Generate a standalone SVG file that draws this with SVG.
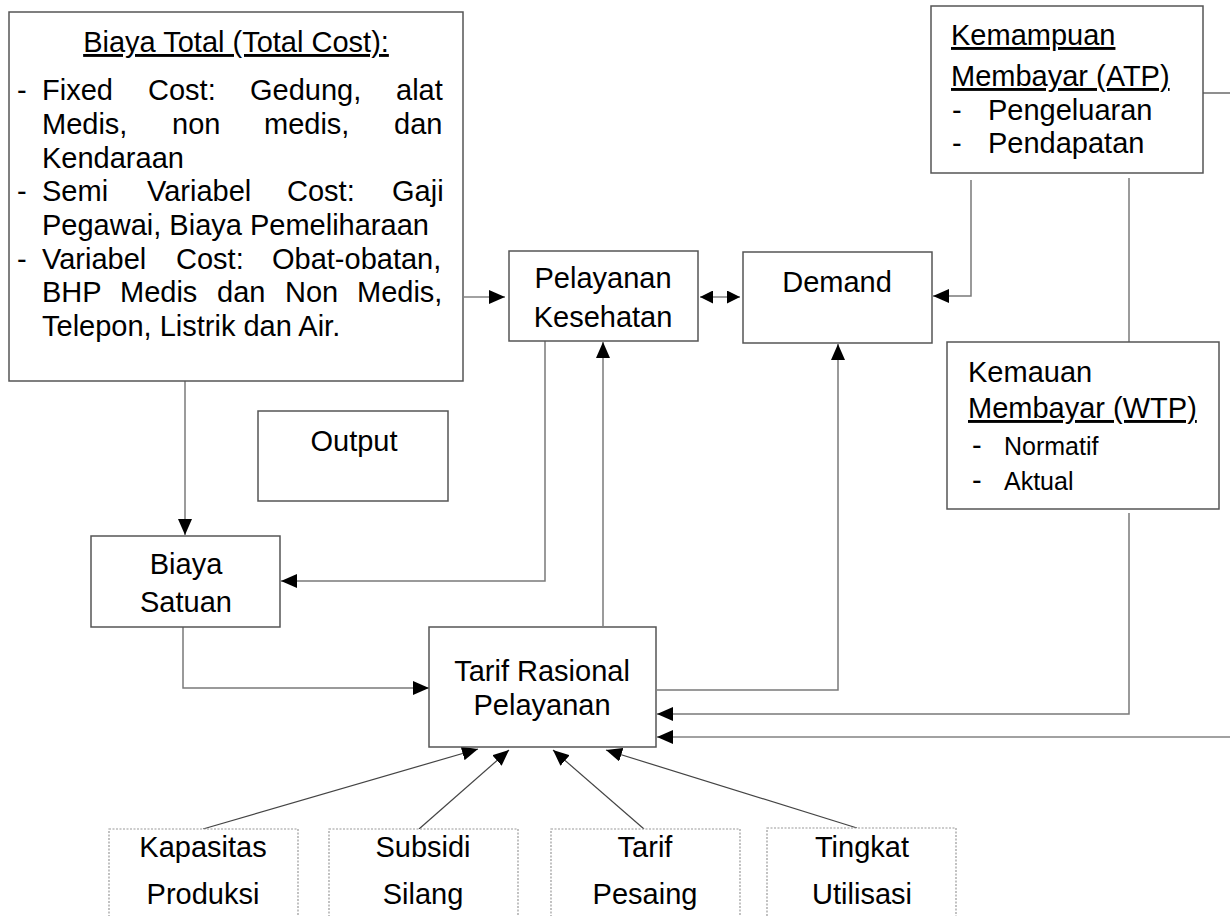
<svg xmlns="http://www.w3.org/2000/svg" width="1230" height="916" viewBox="0 0 1230 916">
<style>
text{font-family:"Liberation Sans",Arial,sans-serif;font-size:29px;fill:#000}
.c{text-anchor:middle}
.u{text-decoration:underline}
.s{font-size:25px}
.box{fill:#fff;stroke:#555;stroke-width:1.5}
.dbox{fill:#fff;stroke:#999;stroke-width:1.2;stroke-dasharray:2 1.5}
.ln{fill:none;stroke:#7a7a7a;stroke-width:1.5}
.lnd{fill:none;stroke:#444;stroke-width:1.2}
</style>
<defs>
<marker id="ah" markerUnits="userSpaceOnUse" markerWidth="16" markerHeight="14" refX="16" refY="7" orient="auto-start-reverse" viewBox="0 0 16 14">
<path d="M0,0 L16,7 L0,14 z" fill="#000"/>
</marker>
<marker id="ahs" markerUnits="userSpaceOnUse" markerWidth="13" markerHeight="13" refX="13" refY="6.5" orient="auto-start-reverse" viewBox="0 0 13 13">
<path d="M0,0 L13,6.5 L0,13 z" fill="#000"/>
</marker>
</defs>

<g id="connectors">
<path class="lnd" d="M464,297 H505" marker-end="url(#ah)"/>
<path class="lnd" d="M700,297 H740" marker-start="url(#ahs)" marker-end="url(#ahs)"/>
<path class="ln" d="M971,180 V296 H933" marker-end="url(#ah)"/>
<path class="ln" d="M1129,178 V342"/>
<path class="lnd" d="M1203,93 H1230"/>
<path class="lnd" d="M1230,737 H657" marker-end="url(#ah)"/>
<path class="ln" d="M1129,513 V714 H657" marker-end="url(#ah)"/>
<path class="ln" d="M657,690 H838 V344" marker-end="url(#ah)"/>
<path class="ln" d="M603,626 V342" marker-end="url(#ah)"/>
<path class="ln" d="M545,341 V581 H281" marker-end="url(#ah)"/>
<path class="ln" d="M185,381 V535" marker-end="url(#ah)"/>
<path class="ln" d="M183,627 V688 H429" marker-end="url(#ah)"/>
<path class="lnd" d="M203,829 L478,749" marker-end="url(#ah)"/>
<path class="lnd" d="M419,829 L509,750" marker-end="url(#ah)"/>
<path class="lnd" d="M644,829 L553,750" marker-end="url(#ah)"/>
<path class="lnd" d="M857,828 L606,750" marker-end="url(#ah)"/>
</g>

<g id="biaya-total">
<rect class="box" x="9" y="12" width="454" height="369"/>
<text class="c u" x="236" y="52">Biaya Total (Total Cost):</text>
<text y="100"><tspan x="17">-</tspan><tspan x="42">Fixed</tspan><tspan x="148">Cost:</tspan><tspan x="250">Gedung,</tspan><tspan x="396">alat</tspan></text>
<text y="134"><tspan x="42">Medis,</tspan><tspan x="172">non</tspan><tspan x="264">medis,</tspan><tspan x="394">dan</tspan></text>
<text y="168"><tspan x="42">Kendaraan</tspan></text>
<text y="201"><tspan x="17">-</tspan><tspan x="42">Semi</tspan><tspan x="147">Variabel</tspan><tspan x="287">Cost:</tspan><tspan x="392">Gaji</tspan></text>
<text y="235"><tspan x="42">Pegawai, Biaya Pemeliharaan</tspan></text>
<text y="269"><tspan x="17">-</tspan><tspan x="42">Variabel</tspan><tspan x="176">Cost:</tspan><tspan x="272">Obat-obatan,</tspan></text>
<text y="302"><tspan x="42">BHP</tspan><tspan x="120">Medis</tspan><tspan x="217">dan</tspan><tspan x="285">Non</tspan><tspan x="357">Medis,</tspan></text>
<text y="336"><tspan x="42">Telepon, Listrik dan Air.</tspan></text>
</g>

<g id="atp">
<rect class="box" x="931" y="6" width="272" height="167"/>
<text class="u" x="951" y="45">Kemampuan</text>
<text class="u" x="951" y="86">Membayar (ATP)</text>
<text x="952" y="120">-</text><text x="988" y="120">Pengeluaran</text>
<text x="952" y="153">-</text><text x="988" y="153">Pendapatan</text>
</g>

<g id="pelayanan">
<rect class="box" x="509" y="251" width="189" height="90"/>
<text class="c" x="603" y="288">Pelayanan</text>
<text class="c" x="603" y="327">Kesehatan</text>
</g>

<g id="demand">
<rect class="box" x="743" y="252" width="189" height="91"/>
<text class="c" x="837" y="292">Demand</text>
</g>

<g id="wtp">
<rect class="box" x="947" y="342" width="272" height="167"/>
<text x="968" y="382">Kemauan</text>
<text class="u" x="968" y="418">Membayar (WTP)</text>
<text x="972" y="455">-</text><text class="s" x="1004" y="455">Normatif</text>
<text x="972" y="490">-</text><text class="s" x="1004" y="490">Aktual</text>
</g>

<g id="output">
<rect class="box" x="258" y="411" width="190" height="90"/>
<text class="c" x="354" y="451">Output</text>
</g>

<g id="biaya-satuan">
<rect class="box" x="91" y="536" width="189" height="91"/>
<text class="c" x="186" y="574">Biaya</text>
<text class="c" x="186" y="612">Satuan</text>
</g>

<g id="tarif-rasional">
<rect class="box" x="429" y="627" width="227" height="120"/>
<text class="c" x="542" y="681">Tarif Rasional</text>
<text class="c" x="542" y="715">Pelayanan</text>
</g>

<g id="kapasitas">
<rect class="dbox" x="109" y="829" width="189" height="100"/>
<text class="c" x="203" y="857">Kapasitas</text>
<text class="c" x="203" y="904">Produksi</text>
</g>
<g id="subsidi">
<rect class="dbox" x="329" y="829" width="189" height="100"/>
<text class="c" x="423" y="857">Subsidi</text>
<text class="c" x="423" y="904">Silang</text>
</g>
<g id="tarif-pesaing">
<rect class="dbox" x="551" y="829" width="189" height="100"/>
<text class="c" x="645" y="857">Tarif</text>
<text class="c" x="645" y="904">Pesaing</text>
</g>
<g id="tingkat">
<rect class="dbox" x="767" y="828" width="189" height="100"/>
<text class="c" x="862" y="857">Tingkat</text>
<text class="c" x="862" y="904">Utilisasi</text>
</g>
</svg>
